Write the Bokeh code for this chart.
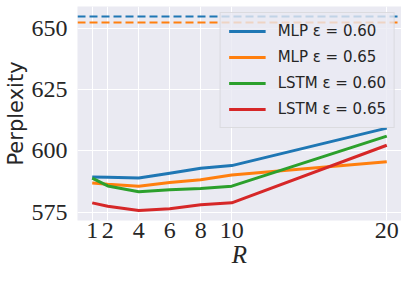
from bokeh.plotting import figure
from bokeh.models import FixedTicker, Range1d, Span, Legend, LegendItem, AllLabels
from bokeh.embed import file_html
from bokeh.resources import INLINE

R = [1, 2, 4, 6, 8, 10, 20]
mlp_060 = [589.3, 589.2, 588.9, 590.9, 592.9, 594.0, 609.3]
mlp_065 = [586.9, 586.4, 585.6, 587.1, 588.2, 590.2, 595.6]
lstm_060 = [588.9, 585.7, 583.3, 584.1, 584.7, 585.6, 606.0]
lstm_065 = [578.8, 577.4, 575.7, 576.4, 578.0, 578.8, 602.3]
baseline_060 = 654.8
baseline_065 = 652.4

labels = ["MLP ε = 0.60", "MLP ε = 0.65", "LSTM ε = 0.60", "LSTM ε = 0.65"]
colors = ["#1f77b4", "#ff7f0e", "#2ca02c", "#d62728"]
x_ticks = [1, 2, 4, 6, 8, 10, 20]
y_ticks = [575, 600, 625, 650]

p = figure(width=401, height=270, output_backend="svg", toolbar_location=None,
           x_range=Range1d(0.05, 20.95), y_range=Range1d(571.6, 658.9),
           min_border_left=60, min_border_right=0, min_border_top=6, min_border_bottom=46)
p.background_fill_color = "#EAEAF2"
p.border_fill_color = "white"
p.outline_line_color = None

for v, c in zip([baseline_060, baseline_065], colors[:2]):
    p.add_layout(Span(location=v, dimension="width", line_color=c,
                      line_width=2, line_dash="8 4"))

renderers = []
for ys, c in zip([mlp_060, mlp_065, lstm_060, lstm_065], colors):
    renderers.append(p.line(R, ys, line_color=c, line_width=3))

p.xaxis.ticker = FixedTicker(ticks=x_ticks)
p.yaxis.ticker = FixedTicker(ticks=y_ticks)
for ax in (p.xaxis, p.yaxis):
    ax.axis_line_color = None
    ax.major_tick_line_color = None
    ax.minor_tick_line_color = None
    ax.major_tick_out = 0
    ax.major_tick_in = 0
    ax.minor_tick_out = 0
    ax.minor_tick_in = 0
    ax.major_label_policy = AllLabels()
    ax.major_label_text_font = "Liberation Serif"
    ax.major_label_text_font_size = "24px"
    ax.major_label_text_color = "#262626"
    ax.axis_label_text_color = "#262626"
p.xaxis.major_label_standoff = 2
p.yaxis.major_label_standoff = 10
p.xaxis.axis_label = "R"
p.xaxis.axis_label_text_font = "Liberation Serif"
p.xaxis.axis_label_text_font_style = "italic"
p.xaxis.axis_label_text_font_size = "25px"
p.xaxis.axis_label_standoff = 0
p.yaxis.axis_label = "Perplexity"
p.yaxis.axis_label_text_font = "DejaVu Sans"
p.yaxis.axis_label_text_font_style = "normal"
p.yaxis.axis_label_text_font_size = "21px"
p.yaxis.axis_label_standoff = 1

p.xgrid.grid_line_color = "white"
p.ygrid.grid_line_color = "white"
p.xgrid.grid_line_width = 1
p.ygrid.grid_line_width = 1

legend = Legend(items=[LegendItem(label=l, renderers=[r]) for l, r in zip(labels, renderers)],
                location="top_right")
legend.label_text_font = "DejaVu Sans"
legend.label_text_font_size = "15px"
legend.label_text_color = "#262626"
legend.glyph_width = 37
legend.glyph_height = 20
legend.label_height = 20
legend.label_standoff = 12
legend.spacing = 6
legend.padding = 8
legend.margin = 6
legend.background_fill_color = "#EAEAF2"
legend.background_fill_alpha = 0.8
legend.border_line_color = "#CCCCCC"
legend.border_line_width = 1
p.add_layout(legend)

open("out.html", "w").write(file_html(p, INLINE))
